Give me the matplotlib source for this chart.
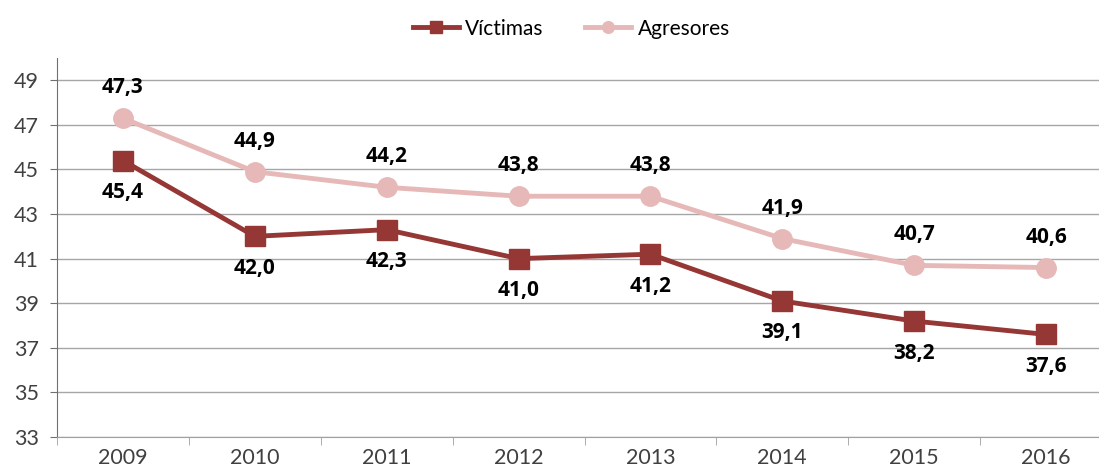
import matplotlib.pyplot as plt
import numpy as np

years = ['2009', '2010', '2011', '2012', '2013', '2014', '2015', '2016']
victimas = [45.4, 42.0, 42.3, 41.0, 41.2, 39.1, 38.2, 37.6]
agresores = [47.3, 44.9, 44.2, 43.8, 43.8, 41.9, 40.7, 40.6]

plt.rcParams['font.family'] = ['Lato', 'DejaVu Sans']

fig = plt.figure(figsize=(10.99, 4.71), dpi=100)
ax = fig.add_axes([57 / 1099, 34 / 471, (1112 - 57) / 1099, (437 - 58) / 471])

x = np.arange(len(years))
ax.plot(x, victimas, '-s', color='#953735', lw=3.5, ms=14, label='Víctimas', zorder=3)
ax.plot(x, agresores, '-o', color='#E6B9B8', lw=3.5, ms=14, label='Agresores', zorder=3)

fmt = lambda v: f'{v:.1f}'.replace('.', ',')
lbl = dict(ha='center', va='center', fontsize=15, fontweight='bold', color='black',
           family=['Open Sans', 'DejaVu Sans'])
for xi, v in zip(x, victimas):
    ax.annotate(fmt(v), (xi, v), xytext=(0, -23), textcoords='offset points', **lbl)
for xi, v in zip(x, agresores):
    ax.annotate(fmt(v), (xi, v), xytext=(0, 22), textcoords='offset points', **lbl)

ax.set_xlim(-0.5, len(years) - 0.5)
ax.set_ylim(33, 50)
ax.set_yticks(range(33, 50, 2))
ax.set_xticks(x)
ax.set_xticklabels(years)
ax.set_xticks(np.arange(-0.5, len(years), 1), minor=True)
ax.tick_params(axis='x', which='major', length=0, labelsize=15.5, labelcolor='#404040', pad=8)
ax.tick_params(axis='x', which='minor', length=6, color='#a0a0a0', direction='out')
ax.tick_params(axis='y', length=5, color='#707070', labelsize=15.5, labelcolor='#404040', pad=8)
ax.grid(axis='y', color='#a6a6a6', lw=1)
ax.set_axisbelow(True)
for s in ['top', 'right']:
    ax.spines[s].set_visible(False)
ax.spines['left'].set_color('#707070')
ax.spines['bottom'].set_color('#a0a0a0')

fig.legend(loc='upper center', bbox_to_anchor=(0.52, 1.0), ncol=2, frameon=False,
           fontsize=15, handlelength=2.2, columnspacing=2.0, handletextpad=0.3,
           markerscale=0.6)

fig.savefig('out.png', dpi=100)
